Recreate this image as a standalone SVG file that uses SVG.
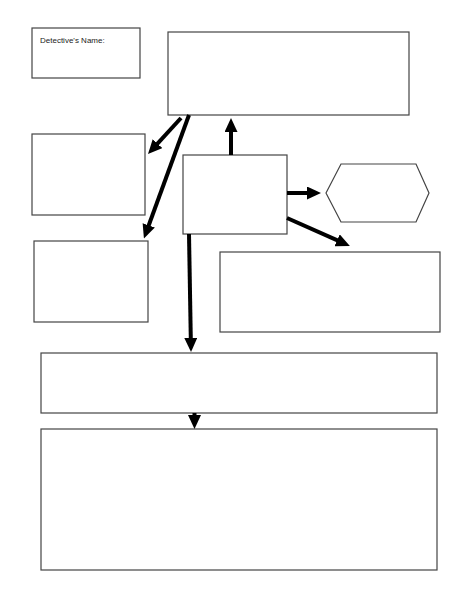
<svg xmlns="http://www.w3.org/2000/svg" width="464" height="600" viewBox="0 0 464 600">
<style>
.box{fill:#fff;stroke:#444;stroke-width:1.2}
.arr{stroke:#000;stroke-width:4;fill:none;marker-end:url(#ah)}
.lbl{font-family:"Liberation Sans",Arial,sans-serif;font-size:8px;fill:#222}
</style>
<defs>
<marker id="ah" viewBox="0 0 14 13" markerWidth="14" markerHeight="13" markerUnits="userSpaceOnUse" refX="1" refY="6.5" orient="auto">
<path d="M0,0 L14,6.5 L0,13 z" fill="#000"/>
</marker>
</defs>
<rect width="464" height="600" fill="#fff"/>
<g id="detective"><rect class="box" x="32" y="28" width="108" height="50"/><text class="lbl" x="40" y="43">Detective's Name:</text></g>
<g id="top"><rect class="box" x="168" y="32" width="241" height="83"/></g>
<g id="left1"><rect class="box" x="32" y="134" width="113" height="81"/></g>
<g id="left2"><rect class="box" x="34" y="241" width="114" height="81"/></g>
<g id="center"><rect class="box" x="183" y="155" width="104" height="79"/></g>
<g id="hex"><polygon class="box" points="326,193 341,164 416,164 429,193 416,222 341,222"/></g>
<g id="right"><rect class="box" x="220" y="252" width="220" height="80"/></g>
<g id="wide1"><rect class="box" x="41" y="353" width="396" height="60"/></g>
<g id="wide2"><rect class="box" x="41" y="429" width="396" height="141"/></g>
<g id="connectors">
<line class="arr" x1="231" y1="155" x2="231" y2="131"/>
<line class="arr" x1="287" y1="193" x2="308" y2="193"/>
<line class="arr" x1="287" y1="218" x2="338" y2="240.7"/>
<line class="arr" x1="189" y1="234" x2="190.8" y2="339"/>
<line class="arr" x1="194.5" y1="413" x2="194.5" y2="416"/>
<line class="arr" x1="181" y1="118" x2="156.8" y2="144.4"/>
<line class="arr" x1="189" y1="115" x2="148.4" y2="226.3"/>
</g>
</svg>
